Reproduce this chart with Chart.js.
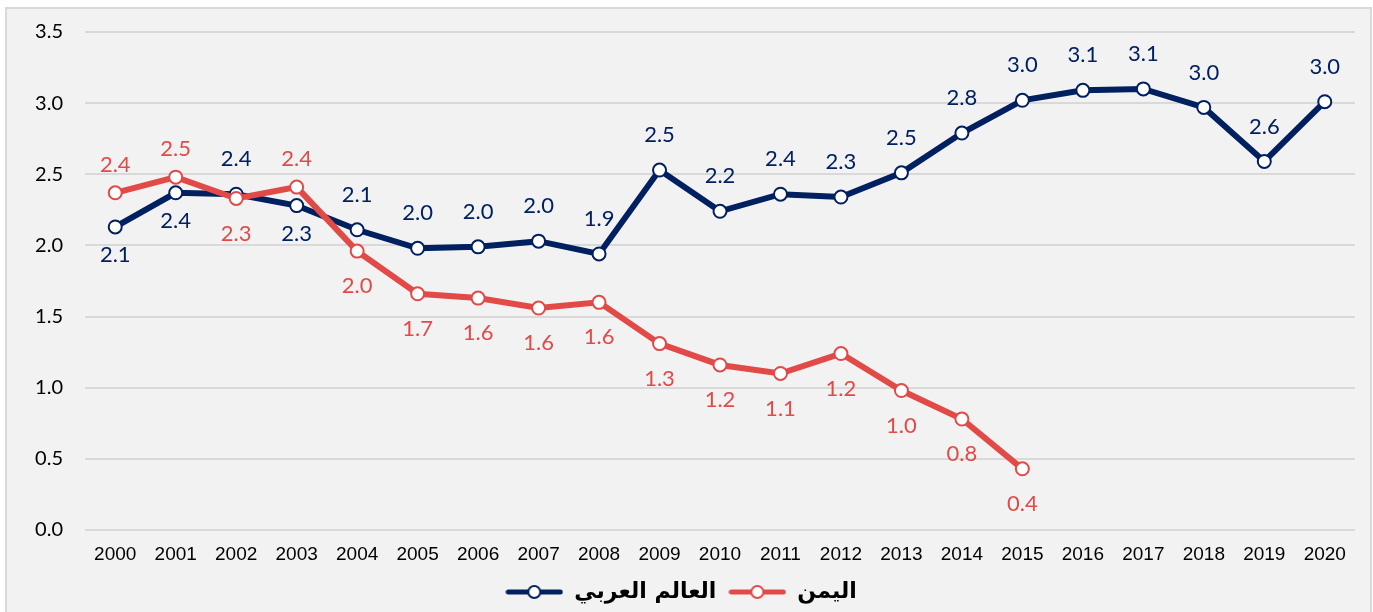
<!DOCTYPE html>
<html>
<head>
<meta charset="utf-8">
<script src="https://cdn.jsdelivr.net/npm/chart.js@4.4.0/dist/chart.umd.min.js"></script>
<style>
  html, body { margin: 0; padding: 0; background: #ffffff; overflow: hidden; }
  #frame {
    position: absolute; left: 5px; top: 7px;
    width: 1363px; height: 606px;
    border: 2px solid #d9d9d9;
    background: #f2f2f2;
  }
  #chart { display: block; }
</style>
</head>
<body>
<div id="frame"><canvas id="chart" width="1363" height="606"></canvas></div>
<script>
// السنوات
const years = ["2000","2001","2002","2003","2004","2005","2006","2007","2008","2009",
               "2010","2011","2012","2013","2014","2015","2016","2017","2018","2019","2020"];

// العالم العربي
const arabWorld = [2.13, 2.37, 2.36, 2.28, 2.11, 1.98, 1.99, 2.03, 1.94, 2.53,
                   2.24, 2.36, 2.34, 2.51, 2.79, 3.02, 3.09, 3.10, 2.97, 2.59, 3.01];

// اليمن (لا توجد بيانات بعد 2015)
const yemen = [2.37, 2.48, 2.33, 2.41, 1.96, 1.66, 1.63, 1.56, 1.60, 1.31,
               1.16, 1.10, 1.24, 0.98, 0.78, 0.43, null, null, null, null, null];

// مكان التسمية فوق أو تحت النقطة
const arabLabelSide = ["below","below","above","below","above","above","above","above","above","above",
                       "above","above","above","above","above","above","above","above","above","above","above"];
const yemenLabelSide = ["above","above","below","above","below","below","below","below","below","below",
                        "below","below","below","below","below","below","below","below","below","below","below"];

const yTicks = [0, 0.5, 1, 1.5, 2, 2.5, 3, 3.5];

const navy = "#002060";
const red = "#e24a48";

// رمز المفتاح: خط مع دائرة
function legendIcon(color) {
    const c = document.createElement("canvas");
    c.width = 58; c.height = 16;
    const g = c.getContext("2d");
    g.strokeStyle = color;
    g.lineWidth = 5;
    g.lineCap = "round";
    g.beginPath(); g.moveTo(3, 8); g.lineTo(55, 8); g.stroke();
    g.fillStyle = "#ffffff";
    g.lineWidth = 2;
    g.beginPath(); g.arc(29, 8, 6, 0, Math.PI * 2); g.fill(); g.stroke();
    return c;
}

// رسم قيم النقاط
const valueLabels = {
    id: "valueLabels",
    afterDatasetsDraw(chart) {
        const ctx = chart.ctx;
        ctx.save();
        ctx.font = "22px Lato";
        ctx.textAlign = "center";
        ctx.textBaseline = "middle";
        chart.data.datasets.forEach((ds, i) => {
            const meta = chart.getDatasetMeta(i);
            meta.data.forEach((pt, j) => {
                const v = ds.data[j];
                if (v === null || v === undefined) return;
                const off = ds.labelSide[j] === "above" ? ds.labelAbove : ds.labelBelow;
                ctx.fillStyle = ds.borderColor;
                ctx.fillText(v.toFixed(1), pt.x, pt.y + off);
            });
        });
        ctx.restore();
    }
};

new Chart(document.getElementById("chart"), {
    type: "line",
    data: {
        labels: years,
        datasets: [
            {
                label: "اليمن",
                data: yemen,
                labelSide: yemenLabelSide,
                labelAbove: -28,
                labelBelow: 35,
                borderColor: red,
                backgroundColor: "#ffffff",
                borderWidth: 6,
                pointRadius: 6.5,
                pointBorderWidth: 2,
                pointBackgroundColor: "#ffffff",
                pointBorderColor: red,
                tension: 0,
                spanGaps: false
            },
            {
                label: "العالم العربي",
                data: arabWorld,
                labelSide: arabLabelSide,
                labelAbove: -35,
                labelBelow: 28,
                borderColor: navy,
                backgroundColor: "#ffffff",
                borderWidth: 6,
                pointRadius: 6.5,
                pointBorderWidth: 2,
                pointBackgroundColor: "#ffffff",
                pointBorderColor: navy,
                tension: 0
            }
        ]
    },
    options: {
        responsive: false,
        animation: false,
        layout: { padding: { top: 23, right: 15, left: 0, bottom: 2 } },
        scales: {
            x: {
                offset: true,
                grid: { display: false, drawTicks: false, offset: true },
                border: { display: false },
                ticks: { color: "#000000", font: { family: "Liberation Sans", size: 19 }, padding: 13, maxRotation: 0 },
                afterFit(s) { s.height = 39; }
            },
            y: {
                min: 0, max: 3.5,
                afterBuildTicks(s) { s.ticks = yTicks.map(v => ({ value: v })); },
                grid: { color: "#d9d9d9", lineWidth: 2, drawTicks: false },
                border: { display: false },
                ticks: {
                    color: "#000000",
                    font: { family: "Lato", size: 20 },
                    padding: 22,
                    callback: v => v.toFixed(1)
                },
                afterFit(s) { s.width = 78; s.paddingTop = 10; s.paddingBottom = 10; }
            }
        },
        plugins: {
            legend: {
                position: "bottom",
                reverse: true,
                labels: {
                    usePointStyle: true,
                    pointStyleWidth: 58,
                    boxHeight: 16,
                    padding: 12,
                    color: "#000000",
                    font: { family: "DejaVu Sans", size: 22, weight: "bold" },
                    generateLabels(chart) {
                        return chart.data.datasets.map((ds, i) => ({
                            text: ds.label,
                            datasetIndex: i,
                            pointStyle: legendIcon(ds.borderColor),
                            fillStyle: ds.borderColor,
                            strokeStyle: ds.borderColor,
                            fontColor: "#000000",
                            lineWidth: 0,
                            hidden: false
                        }));
                    }
                }
            },
            tooltip: { enabled: false }
        }
    },
    plugins: [valueLabels]
});
</script>
</body>
</html>
